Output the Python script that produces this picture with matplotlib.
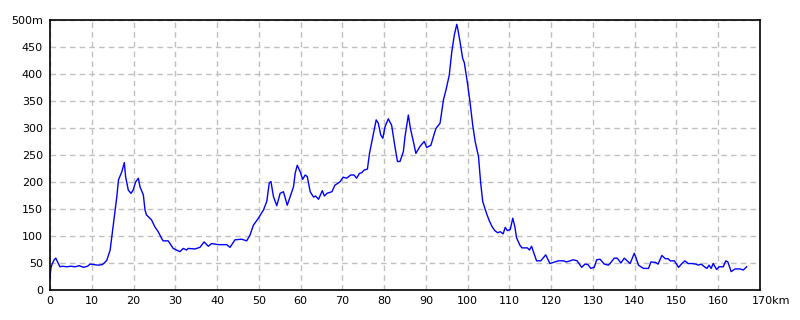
#!/usr/bin/env python3
# -*- coding: utf-8 -*-
'''
Elevation profile (distance in km vs altitude in m)
'''
import matplotlib
matplotlib.use("Agg")
import matplotlib.pyplot as plt
import matplotlib.transforms as mtrans

#************************************
''' Data read off the profile '''
#************************************
distKm = [0.0, 0.2, 0.5, 1.0, 1.4, 1.8, 2.4, 3.0, 4.0, 5.0, 6.0, 7.0, 8.0, 9.0, 9.6,
          10.5, 11.5, 12.5, 13.0, 13.6, 14.4, 14.8, 15.2, 15.6, 16.0, 16.4, 17.2, 17.8,
          18.1, 18.75, 19.4, 19.9, 20.5, 21.15, 21.55, 22.35, 22.75, 23.1, 24.3, 25.1,
          25.9, 26.7, 27.1, 28.3, 29.5, 30.3, 31.1, 31.9, 32.7, 33.1, 34.7, 35.9, 36.9,
          37.9, 38.7, 40.3, 42.3, 43.1, 44.3, 45.9, 47.1, 47.9, 48.7, 49.9, 51.1, 51.9,
          52.5, 52.9, 53.5, 54.3, 55.1, 55.9, 56.8, 57.5, 58.3, 58.7, 59.2, 59.9, 60.5,
          61.1, 61.6, 62.3, 63.1, 63.6, 64.3, 65.2, 65.7, 66.3, 67.5, 68.2, 69.4, 70.2,
          71.0, 72.0, 72.8, 73.4, 74.1, 74.6, 75.2, 76.0, 76.5, 77.3, 78.1, 78.6, 79.2,
          79.7, 80.2, 81.0, 81.8, 82.6, 83.2, 83.8, 84.6, 85.0, 85.8, 86.3, 87.0, 87.6,
          88.6, 89.6, 90.2, 91.2, 91.8, 92.4, 93.4, 93.8, 94.2, 94.8, 95.6, 96.2, 96.8,
          97.4, 97.6, 98.3, 98.8, 99.2, 99.9, 100.6, 101.2, 101.8, 102.6, 103.1, 103.6,
          104.6, 105.2, 105.8, 106.5, 107.2, 107.8, 108.5, 109.0, 109.5, 110.2, 110.8,
          111.3, 111.7, 112.5, 113.0, 114.3, 114.8, 115.3, 116.5, 117.5, 118.7, 119.7,
          120.9, 121.7, 122.9, 123.7, 124.5, 125.3, 126.2, 127.3, 128.1, 128.8, 129.5,
          130.3, 130.9, 131.7, 132.7, 133.7, 134.2, 135.1, 135.8, 136.7, 137.5, 138.9,
          139.9, 140.3, 140.9, 142.1, 143.3, 143.9, 145.0, 145.6, 146.5, 147.3, 148.0,
          148.5, 149.5, 150.5, 151.3, 152.0, 152.8, 153.7, 154.6, 155.2, 155.9, 156.7,
          157.3, 157.8, 158.3, 158.8, 159.6, 160.2, 161.2, 161.8, 162.3, 163.1, 164.0,
          165.2, 166.0, 166.8]
elevM = [22, 40, 48, 56, 59, 52, 43, 44, 43, 44, 43, 45, 42, 44, 48,
         47, 46, 47, 50, 55, 74, 99, 124, 148, 173, 204, 219, 236,
         210, 185, 179, 185, 200, 207, 191, 176, 148, 139, 130, 117,
         108, 96, 91, 91, 77, 74, 71, 77, 74, 77, 76, 79, 89,
         81, 86, 84, 84, 79, 93, 94, 91, 102, 120, 133, 148, 164,
         198, 201, 173, 156, 179, 182, 157, 173, 191, 216, 231, 219, 205,
         213, 210, 182, 172, 174, 168, 184, 174, 179, 182, 194, 200, 209,
         207, 213, 213, 207, 216, 217, 222, 224, 253, 284, 315, 309, 287,
         281, 302, 317, 305, 265, 238, 238, 256, 284, 324, 299, 275, 253,
         266, 275, 264, 268, 284, 299, 309, 330, 352, 370, 398, 441, 472,
         492, 485, 454, 429, 421, 386, 346, 306, 275, 247, 200, 164,
         140, 128, 118, 110, 106, 108, 104, 116, 110, 112, 133,
         117, 97, 83, 78, 78, 74, 81, 54, 54, 65, 49,
         52, 54, 54, 52, 54, 56, 54, 42, 48, 47, 40,
         42, 56, 57, 48, 46, 50, 59, 59, 50, 59, 49,
         68, 60, 46, 40, 40, 52, 51, 48, 64, 58, 58,
         54, 54, 42, 49, 54, 49, 49, 48, 46, 48, 43,
         40, 46, 40, 49, 38, 43, 43, 54, 52, 34, 39,
         39, 37, 43]

xTicks = list(range(0, 171, 10))
xLabels = [str(v) for v in xTicks[:-1]] + ["170km"]
yTicks = list(range(0, 501, 50))
yLabels = [str(v) for v in yTicks[:-1]] + ["500m"]

#************************************
''' Plot '''
#************************************
def plotProfile():
    fig = plt.figure(figsize=(8, 3.2), dpi=100)
    ax = fig.add_axes([50/800, 30/320, 710/800, 270/320])

    ax.plot(distKm, elevM, color='#0000ff', lw=1.0)

    ax.set_xlim(0, 170)
    ax.set_ylim(0, 500)
    ax.set_xticks(xTicks)
    ax.set_xticklabels(xLabels)
    ax.set_yticks(yTicks)
    ax.set_yticklabels(yLabels)
    ax.tick_params(length=0, labelsize=8, colors='black')
    ax.tick_params(axis='x', pad=4)
    ax.tick_params(axis='y', pad=5)

    # "170km": keep the number on the tick, unit trailing to the right
    last = ax.get_xticklabels()[-1]
    last.set_ha('left')
    last.set_transform(last.get_transform() +
                       mtrans.ScaledTranslation(-8/100, 0, fig.dpi_scale_trans))

    ax.grid(True, color='#c0c0c0', linestyle=(0, (4, 3)), lw=1.0)
    ax.set_axisbelow(True)
    for s in ax.spines.values():
        s.set_color('black')
        s.set_linewidth(1.2)

    fig.savefig('out.png', dpi=100)
    plt.close()

if __name__ == "__main__":
    plotProfile()
